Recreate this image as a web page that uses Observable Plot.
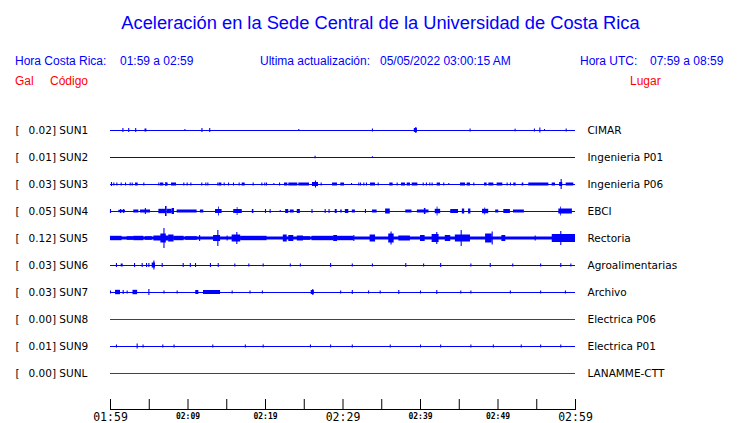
<!DOCTYPE html>
<html>
<head>
<meta charset="utf-8">
<script src="https://cdn.jsdelivr.net/npm/d3@7"></script>
<script src="https://cdn.jsdelivr.net/npm/@observablehq/plot@0.6"></script>
<style>
  html, body { margin: 0; padding: 0; background: #fff; }
  body { width: 740px; height: 423px; overflow: hidden; position: relative; font-family: "Liberation Sans", Arial, sans-serif; }
  .t { position: absolute; white-space: pre; line-height: 1; font-size: 12px; }
  .blue { color: #0000ff; }
  .red { color: #ff0000; }
  #title { left: 0; width: 761px; text-align: center; top: 14px; font-size: 18.3px; }
  #chart { position: absolute; left: 0; top: 96px; }
</style>
</head>
<body>
<div id="title" class="t blue"></div>
<div id="h1" class="t blue" style="left:15px;top:55px"></div>
<div id="h2" class="t blue" style="left:120px;top:55px"></div>
<div id="h3" class="t blue" style="left:260px;top:55px"></div>
<div id="h4" class="t blue" style="left:380px;top:55px"></div>
<div id="h5" class="t blue" style="left:580px;top:55px"></div>
<div id="h6" class="t blue" style="left:650px;top:55px"></div>
<div id="c1" class="t red" style="left:15px;top:75px"></div>
<div id="c2" class="t red" style="left:50px;top:75px"></div>
<div id="c3" class="t red" style="left:630px;top:75px"></div>
<div id="chart"></div>
<script>
// ---------- texts ----------
const title = "Aceleración en la Sede Central de la Universidad de Costa Rica";
const headerLabels = ["Hora Costa Rica:", "01:59 a 02:59", "Ultima actualización:", "05/05/2022 03:00:15 AM", "Hora UTC:", "07:59 a 08:59"];
const columnLabels = ["Gal", "Código", "Lugar"];

// ---------- stations ----------
const stations = ["SUN1", "SUN2", "SUN3", "SUN4", "SUN5", "SUN6", "SUN7", "SUN8", "SUN9", "SUNL"];
const gal = ["0.02", "0.01", "0.03", "0.05", "0.12", "0.03", "0.03", "0.00", "0.01", "0.00"];
const places = ["CIMAR", "Ingenieria P01", "Ingenieria P06", "EBCI", "Rectoria", "Agroalimentarias", "Archivo", "Electrica P06", "Electrica P01", "LANAMME-CTT"];
const states = ["activa", "activa", "activa", "activa", "activa", "activa", "activa", "inactiva", "activa", "inactiva"];

// ---------- time axis (minutes after 01:59) ----------
const timeDomain = [0, 60];
const tickMinutes = [0, 5, 10, 15, 20, 25, 30, 35, 40, 45, 50, 55, 60];
const majorTicks = [0, 30, 60];
const majorLabels = ["01:59", "02:29", "02:59"];
const minorTicks = [10, 20, 40, 50];
const minorLabels = ["02:09", "02:19", "02:39", "02:49"];

// ---------- bursts: [start minute, end minute, half amplitude] ----------
const bSUN1 = [[1.6,1.6,2],[2.35,2.35,2],[3.25,3.25,2],[4.45,4.7,1.5],[9.6,9.6,1],[11.8,11.8,2],[12.8,12.8,2],[24.3,24.3,1],[33.8,33.8,1.5],[39.2,39.6,2],[39.4,39.4,3],[46.4,46.4,1.5],[52.2,52.35,1.3],[54.7,54.7,1.5],[55.4,55.4,2.5],[56.0,56.0,1],[58.8,58.8,1.5]];
const bSUN2 = [[26.4,26.4,1.2],[33.8,33.8,0.8]];
const bSUN3 = [[0.13,0.13,2],[0.43,0.43,1.5],[0.82,0.82,1.5],[1.38,1.38,1.5],[1.94,1.94,1.5],[2.54,2.54,1.5],[2.8,2.8,1.5],[3.23,3.57,1.5],[4.3,4.3,1.5],[6.24,6.24,1.5],[6.45,6.88,1.5],[7.14,7.14,2],[7.18,7.44,1.5],[7.87,8.52,1.5],[9.46,9.46,1.5],[9.89,9.89,1.5],[10.37,10.37,1.5],[11.78,11.78,1.5],[12.3,12.3,1.5],[12.56,12.56,1.5],[13.85,13.85,1.5],[14.02,14.37,1.5],[14.67,14.67,1.5],[15.23,15.23,1.5],[15.87,15.87,1.5],[16.6,16.6,1.5],[16.99,17.38,1.5],[18.41,18.41,1.5],[19.53,19.53,1.5],[19.91,19.91,1.5],[20.13,20.13,1.5],[21.08,21.08,1],[21.81,21.81,1.5],[22.45,22.88,1.5],[23.01,24.17,1.5],[24.3,25.68,1.5],[26.06,26.84,2],[26.45,26.45,3.5],[27.18,27.18,1.5],[28.65,29.29,1.5],[29.72,30.19,1.5],[31.1,31.1,1],[32.04,32.04,1.5],[32.26,32.26,1.5],[32.69,32.69,1.5],[33.03,33.03,1.5],[33.55,34.19,1.5],[34.54,34.54,1.5],[36.04,36.47,1.5],[36.99,36.99,1.5],[37.55,38.06,1.5],[38.28,38.71,1.5],[38.93,39.66,1.5],[40.35,40.35,1.5],[40.77,40.77,1.5],[41.2,41.2,1.5],[41.5,41.5,1.5],[42.15,42.58,1.5],[43.0,43.0,1.5],[43.65,43.65,1],[45.16,45.81,1.5],[46.02,46.45,1.5],[46.88,46.88,1.5],[48.26,48.6,1.5],[48.82,49.46,1.5],[49.89,50.62,1.5],[51.18,51.18,1.5],[51.61,51.61,1.5],[52.04,52.34,1.5],[53.12,53.33,1.5],[53.97,56.56,1.5],[56.99,57.42,1.5],[57.95,58.35,2],[58.15,58.15,5],[58.8,59.78,1.5]];
const bSUN4 = [[0,0,2],[1.07,1.94,1.2],[1.3,1.3,2],[1.7,1.7,2],[3.0,3.66,1.5],[3.87,5.16,1.5],[4.5,4.5,3],[6.24,7.1,2.2],[7.1,7.3,5],[7.3,7.96,2.2],[7.96,8.26,3],[8.6,11.18,1.5],[11.6,12.04,1.5],[13.55,14.4,2],[13.95,14.05,4.5],[15.9,17.0,2],[16.35,16.45,4],[18.3,18.5,2],[20.0,20.0,2],[20.6,20.6,2],[21.9,21.9,1],[22.6,23.0,2],[23.2,23.7,1.5],[24.1,24.5,2],[26.0,26.0,2],[27.7,27.7,2],[28.2,28.2,2],[29.0,29.25,2],[29.7,29.9,1.5],[30.3,30.75,2],[31.2,31.6,1.5],[32.9,32.9,2],[33.8,34.4,1.5],[35.5,36.1,2.5],[38.1,38.9,1.5],[39.6,41.1,1.5],[40.5,40.7,3],[41.9,42.6,2.2],[42.15,42.25,4.5],[43.9,44.9,2],[45.4,45.7,2.5],[46.2,46.5,2.5],[48.0,48.8,2.2],[48.3,48.4,3.5],[49.7,50.1,1.5],[50.75,51.6,2],[52.0,53.4,1.5],[57.85,59.6,2.5],[58.1,58.2,4.5]];
const bSUN5 = [[0,60,1.5],[0,1.5,2.2],[2.15,3.0,1.8],[3.0,4.3,2.2],[4.5,5.4,1.8],[5.6,7.5,2.5],[6.5,7.2,4.5],[6.9,6.9,10],[7.5,8.2,3.5],[8.2,9.5,2.2],[9.7,11.2,1.8],[11.5,11.5,3],[13.3,14.2,3],[13.85,13.85,8],[15.05,15.05,2.5],[15.7,16.8,3.5],[16.3,16.3,6],[16.8,20.2,2.2],[22.3,22.8,3.5],[23.0,23.65,3],[24.1,24.9,2.5],[24.9,25.8,1.8],[26.0,28.8,2.2],[28.8,29.3,3],[29.3,31.4,2.2],[31.4,31.4,3],[33.5,34.2,3.5],[35.9,36.6,4.5],[36.2,36.2,6.5],[37.2,38.7,2.5],[40.0,40.6,3],[41.5,42.4,4],[42.1,42.1,6],[43.2,43.9,3],[44.5,46.45,3.5],[45.25,45.25,8],[48.4,49.25,4.5],[49.25,49.25,6.5],[50.5,51.0,3],[54.8,54.8,2.5],[57.0,60,4],[58.1,58.1,7]];
const bSUN6 = [[0.77,0.77,2],[1.38,1.64,1.5],[3.1,3.1,2],[4.09,4.09,2],[4.65,4.65,2],[4.95,4.95,2],[5.38,5.8,2.5],[5.6,5.6,4.5],[6.67,6.67,2],[9.38,9.38,2],[10.3,10.3,2],[10.97,10.97,2],[12.9,12.9,2],[13.9,13.9,2],[16.04,16.04,1.5],[17.85,17.85,1.5],[19.7,19.7,1.5],[23.2,23.2,1.5],[24.5,24.5,1.5],[28.4,28.4,2],[31.2,31.2,1.5],[33.8,33.8,1.5],[38.1,38.1,2],[40.4,40.4,1.5],[42.6,42.6,2],[46.5,46.5,1.5],[49.0,49.0,2],[51.9,51.9,1.5],[55.5,55.5,1.5],[58.1,58.1,2],[59.4,59.4,1.5]];
const bSUN7 = [[0,0,1.5],[0.65,1.29,2.2],[1.64,1.64,2],[2.15,2.15,1.5],[2.9,3.5,2.2],[4.95,4.95,3],[6.9,6.9,1.5],[8.6,8.6,1.5],[11.0,11.4,2],[12.0,14.2,2],[15.7,15.7,1.5],[18.0,18.0,1.5],[19.6,19.6,1.5],[25.9,26.3,2],[26.1,26.1,3],[29.7,29.7,1.5],[31.2,31.2,2],[33.3,33.3,1.5],[34.8,34.8,1.5],[37.2,37.2,2],[40.0,40.0,1.5],[42.1,42.1,2],[45.2,45.2,1.5],[46.5,46.5,1.5],[51.6,51.6,1.5],[55.5,55.5,1.5],[58.7,58.7,1.5]];
const bSUN8 = [];
const bSUN9 = [[0.77,0.77,1.5],[3.44,3.44,2.5],[4.2,4.2,1.5],[6.75,6.75,1.5],[8.2,8.2,1.5],[13.2,13.2,1.5],[17.4,17.4,1.5],[19.7,19.7,1.5],[25.8,25.8,1.5],[28.4,28.4,1.5],[31.2,31.2,1.5],[36.1,36.1,1.5],[40.0,40.0,1.5],[42.6,42.6,1.5],[46.5,46.5,1.5],[49.4,49.4,1.5],[53.0,53.0,1.5],[55.5,55.5,1.5],[58.1,58.1,1.5]];
const bSUNL = [];

// ---------- build ----------
document.getElementById("title").textContent = title;
["h1","h2","h3","h4","h5","h6"].forEach((id, k) => document.getElementById(id).textContent = headerLabels[k]);
["c1","c2","c3"].forEach((id, k) => document.getElementById(id).textContent = columnLabels[k]);

const ROW = 27; // amplitude units spanned by one trace row
const rows = stations.map((s, i) => ({i, station: s, gal: gal[i], place: places[i], state: states[i]}));
const burstLists = [bSUN1, bSUN2, bSUN3, bSUN4, bSUN5, bSUN6, bSUN7, bSUN8, bSUN9, bSUNL];
const events = burstLists.flatMap((arr, i) => arr.map(([t0, t1, a]) => ({i, t0, t1, a, state: states[i]})));
const blocks = events.filter(e => e.t1 > e.t0);
const spikes = events.filter(e => e.t1 === e.t0);

const labelFont = "DejaVu Sans, Verdana, sans-serif";
const monoFont = "DejaVu Sans Mono, monospace";

const chart = Plot.plot({
  width: 740,
  height: 327,
  marginLeft: 110,
  marginRight: 165,
  marginTop: 34,
  marginBottom: 14,
  x: {domain: timeDomain},
  y: {domain: [0, 9], range: [34, 277], axis: null},
  color: {domain: ["activa", "inactiva"], range: ["#0000ff", "#e00000"]},
  style: {background: "transparent", color: "#000", overflow: "visible"},
  marks: [
    Plot.ruleY(rows, {y: "i", x1: timeDomain[0], x2: timeDomain[1], stroke: "state", strokeWidth: 1.2}),
    Plot.rect(blocks, {x1: "t0", x2: "t1", y1: d => d.i - d.a / ROW, y2: d => d.i + d.a / ROW, fill: "state"}),
    Plot.ruleX(spikes, {x: "t0", y1: d => d.i - d.a / ROW, y2: d => d.i + d.a / ROW, stroke: "state", strokeWidth: 1.1}),
    Plot.text(rows, {y: "i", frameAnchor: "left", dx: -95, text: () => "[", textAnchor: "start", fontFamily: labelFont, fontSize: 10.5, fill: "#000"}),
    Plot.text(rows, {y: "i", frameAnchor: "left", dx: -82, text: d => `${d.gal}] ${d.station}`, textAnchor: "start", fontFamily: labelFont, fontSize: 10.5, fill: "#000"}),
    Plot.text(rows, {y: "i", frameAnchor: "right", dx: 12, text: "place", textAnchor: "start", fontFamily: labelFont, fontSize: 10.5, fill: "#000"}),
    Plot.frame({anchor: "bottom", stroke: "#000"}),
    Plot.axisX({ticks: tickMinutes, tickSize: -10, tickFormat: () => "", stroke: "#000"}),
    Plot.axisX({ticks: minorTicks, tickSize: 0, tickPadding: 4, tickFormat: d => minorLabels[minorTicks.indexOf(d)], fontFamily: monoFont, fontSize: 8, fontWeight: "bold", fill: "#000"}),
    Plot.axisX({ticks: majorTicks, tickSize: 0, tickPadding: 3.5, tickFormat: d => majorLabels[majorTicks.indexOf(d)], fontFamily: monoFont, fontSize: 11.5, fill: "#000"})
  ]
});
document.getElementById("chart").appendChild(chart);
</script>
</body>
</html>
